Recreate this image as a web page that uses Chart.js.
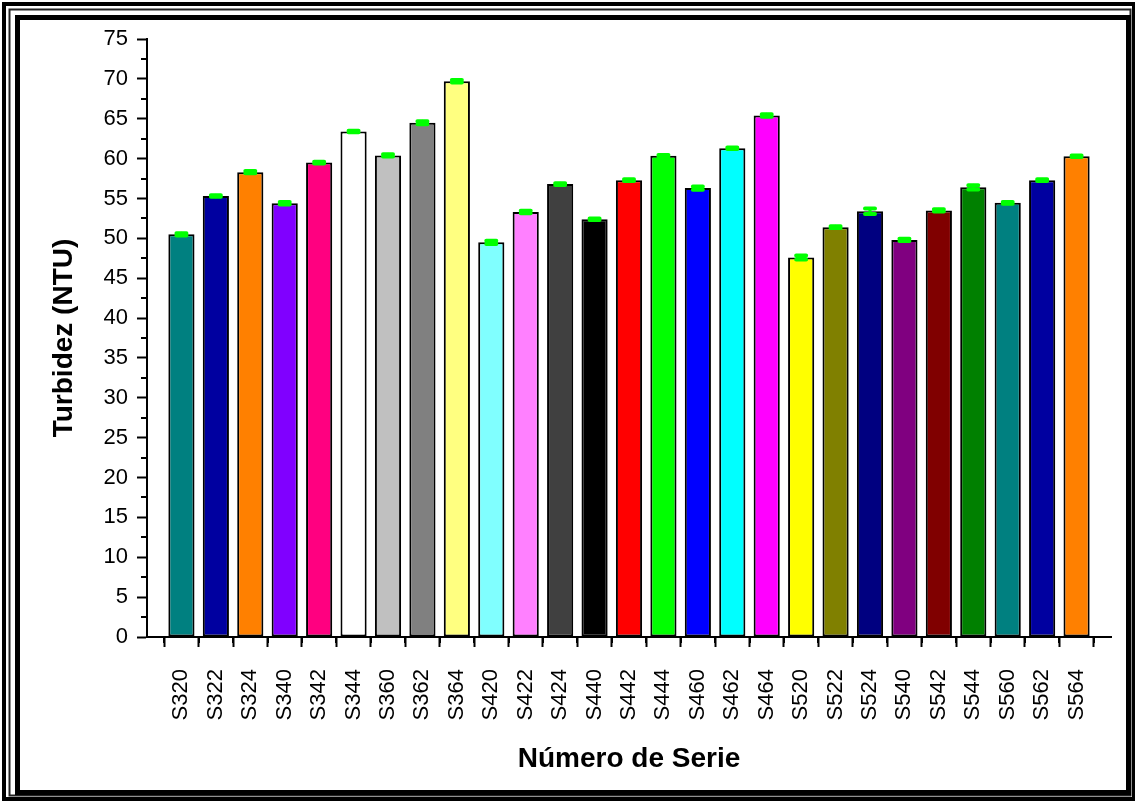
<!DOCTYPE html>
<html lang="es">
<head>
<meta charset="utf-8">
<title>Turbidez por número de serie</title>
<script src="https://cdn.jsdelivr.net/npm/chart.js@4.4.1/dist/chart.umd.min.js"></script>
<style>
  html, body { margin: 0; padding: 0; background: #fff; }
  #contenedor { width: 1135px; height: 802px; }
</style>
</head>
<body>
<div id="contenedor"><canvas id="ChartTurbidez" width="1135" height="802"></canvas></div>
<script>
// Turbidez media por serie y su desviación
const series = ['S320', 'S322', 'S324', 'S340', 'S342', 'S344', 'S360', 'S362', 'S364',
                'S420', 'S422', 'S424', 'S440', 'S442', 'S444', 'S460', 'S462', 'S464',
                'S520', 'S522', 'S524', 'S540', 'S542', 'S544', 'S560', 'S562', 'S564'];
const turbidez = [50.5, 55.3, 58.3, 54.4, 59.5, 63.4, 60.4, 64.5, 69.7,
                  49.5, 53.3, 56.8, 52.4, 57.3, 60.35, 56.3, 61.3, 65.4,
                  47.6, 51.4, 53.4, 49.8, 53.5, 56.4, 54.45, 57.3, 60.3];
const errores = [0.15, 0.1, 0.15, 0.15, 0.1, 0.1, 0.15, 0.2, 0.15,
                 0.2, 0.15, 0.1, 0.1, 0.1, 0.1, 0.2, 0.1, 0.15,
                 0.25, 0.1, 0.35, 0.15, 0.15, 0.27, 0.1, 0.1, 0.1];
const colores = ['#008080', '#0000A0', '#FF8000', '#8000FF', '#FF0080', '#FFFFFF', '#C0C0C0', '#808080', '#FFFF80',
                 '#80FFFF', '#FF80FF', '#404040', '#000000', '#FF0000', '#00FF00', '#0000FF', '#00FFFF', '#FF00FF',
                 '#FFFF00', '#808000', '#000080', '#800080', '#800000', '#008000', '#008080', '#0000A0', '#FF8000'];

const yMin = 0;
const yMax = 75;
const yPaso = 5;

const fuente = 'Arial, "Liberation Sans", sans-serif';

// el eje de categorías lleva una posición vacía a cada lado
const etiquetas = ['', ...series, ''];
const valores = [null, ...turbidez, null];
const fondos = ['#fff', ...colores, '#fff'];

// marco doble alrededor de todo el gráfico
const marco = {
    id: 'marco',
    beforeDraw(chart) {
        const c = chart.ctx;
        c.save();
        c.fillStyle = '#fff';
        c.fillRect(0, 0, chart.width, chart.height);
        c.strokeStyle = '#000';
        c.lineWidth = 4;
        c.strokeRect(4, 4, 1130, 795);
        c.lineWidth = 2;
        c.strokeStyle = '#222';
        c.strokeRect(9.5, 9.5, 1121, 786);
        c.strokeStyle = '#000';
        c.lineWidth = 5;
        c.strokeRect(17.5, 17.5, 1111, 775);
        c.restore();
    }
};

// marcas menores de los ejes
const marcasMenores = {
    id: 'marcasMenores',
    afterDraw(chart) {
        const c = chart.ctx;
        const x = chart.scales.x;
        const y = chart.scales.y;
        c.save();
        c.strokeStyle = '#000';
        c.lineWidth = 2;
        c.beginPath();
        for (let v = yMin + yPaso / 2; v < yMax; v += yPaso) {
            const py = Math.round(y.getPixelForValue(v));
            c.moveTo(x.left, py);
            c.lineTo(x.left - 6, py);
        }
        for (let i = 0.5; i < etiquetas.length - 1; i++) {
            const px = Math.round(x.getPixelForValue(i));
            c.moveTo(px, y.bottom);
            c.lineTo(px, y.bottom + 6);
        }
        c.stroke();
        c.restore();
    }
};

// barras de error verdes sobre cada columna
const barrasError = {
    id: 'barrasError',
    afterDatasetsDraw(chart) {
        const c = chart.ctx;
        const x = chart.scales.x;
        const y = chart.scales.y;
        c.save();
        c.strokeStyle = '#00FF00';
        c.lineCap = 'round';
        turbidez.forEach((v, i) => {
            const px = x.getPixelForValue(i + 1);
            const arriba = y.getPixelForValue(v + errores[i]);
            const abajo = y.getPixelForValue(v - errores[i]);
            c.lineWidth = 3;
            c.beginPath();
            c.moveTo(px, arriba);
            c.lineTo(px, abajo);
            c.stroke();
            c.lineWidth = 4;
            c.beginPath();
            c.moveTo(px - 5, arriba);
            c.lineTo(px + 5, arriba);
            c.moveTo(px - 5, abajo);
            c.lineTo(px + 5, abajo);
            c.stroke();
        });
        c.restore();
    }
};

const ctx = document.getElementById('ChartTurbidez').getContext('2d');

const chartTurbidez = new Chart(ctx, {
    type: 'bar',
    data: {
        labels: etiquetas,
        datasets: [{
            label: 'Turbidez',
            data: valores,
            backgroundColor: fondos,
            borderColor: '#000',
            borderWidth: 2,
            borderSkipped: false,
            barPercentage: 0.76,
            categoryPercentage: 1
        }]
    },
    options: {
        responsive: false,
        animation: false,
        layout: { padding: { top: 39, right: 24, bottom: 0, left: 0 } },
        plugins: {
            legend: { display: false },
            tooltip: { enabled: false }
        },
        scales: {
            x: {
                offset: false,
                grid: { drawOnChartArea: false, drawTicks: true, tickLength: 10, tickWidth: 2, tickColor: '#000' },
                border: { display: true, color: '#000', width: 2 },
                ticks: {
                    autoSkip: false,
                    minRotation: 90,
                    maxRotation: 90,
                    padding: 22,
                    color: '#000',
                    font: { family: fuente, size: 22 }
                },
                title: {
                    display: true,
                    text: 'Número de Serie',
                    color: '#000',
                    font: { family: fuente, size: 28, weight: 'bold' },
                    padding: { top: 0, bottom: 26 }
                },
                afterFit(scale) {
                    scale.height = 165;
                    scale.paddingLeft = 0;
                    scale.paddingRight = 0;
                }
            },
            y: {
                min: yMin,
                max: yMax,
                grid: { drawOnChartArea: false, drawTicks: true, tickLength: 10, tickWidth: 2, tickColor: '#000' },
                border: { display: true, color: '#000', width: 2 },
                ticks: {
                    stepSize: yPaso,
                    padding: 9,
                    color: '#000',
                    font: { family: fuente, size: 22 }
                },
                title: {
                    display: true,
                    text: 'Turbidez (NTU)',
                    color: '#000',
                    font: { family: fuente, size: 28, weight: 'bold' },
                    padding: { top: 47, bottom: 0 }
                },
                afterFit(scale) { scale.width = 147; }
            }
        }
    },
    plugins: [marco, marcasMenores, barrasError]
});
</script>
</body>
</html>
